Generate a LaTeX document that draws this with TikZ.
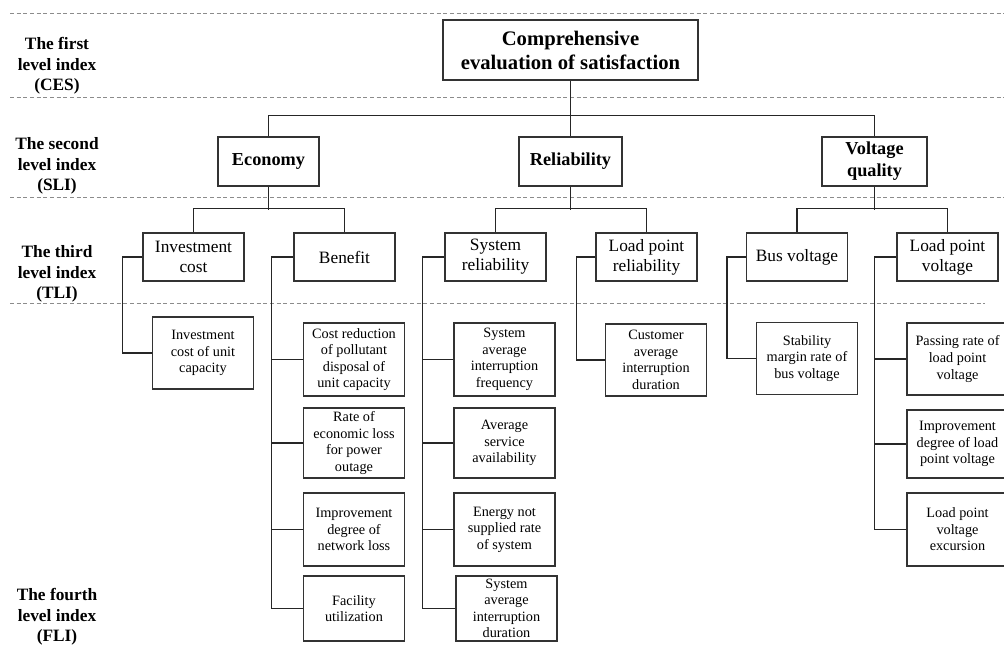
\documentclass[tikz,border=0pt]{standalone}
\usepackage{fontspec}
\setmainfont{Liberation Serif}

\tikzset{
  sep/.style={draw=black!45, line width=0.6pt, dash pattern=on 3pt off 2pt},
  link/.style={draw=black!85, line width=1.15pt},
  livello/.style={font=\bfseries\fontsize{13}{15.4}\selectfont, align=center},
  box/.style={draw=black!80, line width=1.1pt, inner sep=0pt, align=center},
  radice/.style={box, font=\bfseries\fontsize{15.5}{18}\selectfont, minimum width=191.25pt, minimum height=45pt},
  primo/.style={box, font=\bfseries\fontsize{13.7}{16.5}\selectfont, minimum height=36.75pt},
  secondo/.style={box, font=\fontsize{13}{15}\selectfont, minimum width=75.75pt, minimum height=36pt},
  terzo/.style={box, font=\fontsize{10.7}{12.4}\selectfont, minimum width=75.75pt, minimum height=54pt},
}

\begin{document}
\begin{tikzpicture}[x=0.75pt, y=-0.75pt]
\useasboundingbox (0,0) rectangle (1004,646);

    % Linee tratteggiate tra i livelli
    \draw[sep] (10,13) -- (1004,13);
    \draw[sep] (10,97) -- (1004,97);
    \draw[sep] (10,197) -- (1004,197);
    \draw[sep] (10,303) -- (985,303);

    % Etichette dei livelli
    \node[livello] (l1) at (57,66) {The first\\level index\\(CES)};
    \node[livello] (l2) at (57,166) {The second\\level index\\(SLI)};
    \node[livello] (l3) at (57,274) {The third\\level index\\(TLI)};
    \node[livello] (l4) at (57,617) {The fourth\\level index\\(FLI)};

    % Primo livello
    \node[radice] (ces) at (570.5,50) {Comprehensive\\evaluation of satisfaction};

    % Secondo livello
    \node[primo, minimum width=75.75pt] (eco) at (268.5,161.5) {Economy};
    \node[primo, minimum width=77.25pt] (rel) at (570.5,161.5) {Reliability};
    \node[primo, minimum width=78.75pt] (vq) at (874.5,161.5) {Voltage\\quality};

    % Terzo livello
    \node[secondo] (inv) at (193.5,257) {Investment\\cost};
    \node[secondo] (ben) at (344.5,257) {Benefit};
    \node[secondo] (sys) at (495.5,257) {System\\reliability};
    \node[secondo] (lpr) at (646.5,257) {Load point\\reliability};
    \node[secondo] (bus) at (797,257) {Bus voltage};
    \node[secondo] (lpv) at (947.5,257) {Load point\\voltage};

    % Quarto livello
    \node[terzo] (iu) at (203,353) {Investment\\cost of unit\\capacity};
    \node[terzo, minimum height=54.75pt] (bA) at (354,359.5) {Cost reduction\\of pollutant\\disposal of\\unit capacity};
    \node[terzo, minimum height=52.5pt] (bB) at (354,443) {Rate of\\economic loss\\for power\\outage};
    \node[terzo, minimum height=54.75pt] (bC) at (354,529.5) {Improvement\\degree of\\network loss};
    \node[terzo, minimum height=48.75pt] (bD) at (354,608.5) {Facility\\utilization};
    \node[terzo, minimum height=54.75pt] (sA) at (504.5,359.5) {System\\average\\interruption\\frequency};
    \node[terzo, minimum height=52.5pt] (sB) at (504.5,443) {Average\\service\\availability};
    \node[terzo, minimum height=54.75pt] (sC) at (504.5,529.5) {Energy not\\supplied rate\\of system};
    \node[terzo, minimum height=48.75pt] (sD) at (506.5,608.5) {System\\average\\interruption\\duration};
    \node[terzo] (cu) at (656,360) {Customer\\average\\interruption\\duration};
    \node[terzo] (sm) at (807,358.5) {Stability\\margin rate of\\bus voltage};
    \node[terzo] (vA) at (957.5,359) {Passing rate of\\load point\\voltage};
    \node[terzo, minimum height=51pt] (vB) at (957.5,444) {Improvement\\degree of load\\point voltage};
    \node[terzo, minimum height=54.75pt] (vC) at (957.5,529.5) {Load point\\voltage\\excursion};

    % Collegamenti primo - secondo livello
    \draw[link] (ces.south) -- (rel.north);
    \draw[link] (eco.north) -- ++(0,-21) -| (vq.north);

    % Collegamenti secondo - terzo livello
    \draw[link] (eco.south) -- ++(0,23);
    \draw[link] (inv.north) -- ++(0,-24) -| (ben.north);
    \draw[link] (rel.south) -- ++(0,23);
    \draw[link] (sys.north) -- ++(0,-24) -| (lpr.north);
    \draw[link] (vq.south) -- ++(0,23);
    \draw[link] (bus.north) -- ++(0,-24) -| (lpv.north);

    % Collegamenti terzo - quarto livello
    \draw[link] (inv.west) -- ++(-20,0) |- (iu.west);
    \draw[link] (ben.west) -- ++(-22,0) coordinate (bs) |- (bD.west);
    \foreach \n in {bA,bB,bC} \draw[link] (\n.west) -- (\n.west -| bs);
    \draw[link] (sys.west) -- ++(-22,0) coordinate (ss) |- (sD.west);
    \foreach \n in {sA,sB,sC} \draw[link] (\n.west) -- (\n.west -| ss);
    \draw[link] (lpr.west) -- ++(-19,0) |- (cu.west);
    \draw[link] (bus.west) -- ++(-19,0) |- (sm.west);
    \draw[link] (lpv.west) -- ++(-22,0) coordinate (vs) |- (vC.west);
    \foreach \n in {vA,vB} \draw[link] (\n.west) -- (\n.west -| vs);

\end{tikzpicture}
\end{document}
